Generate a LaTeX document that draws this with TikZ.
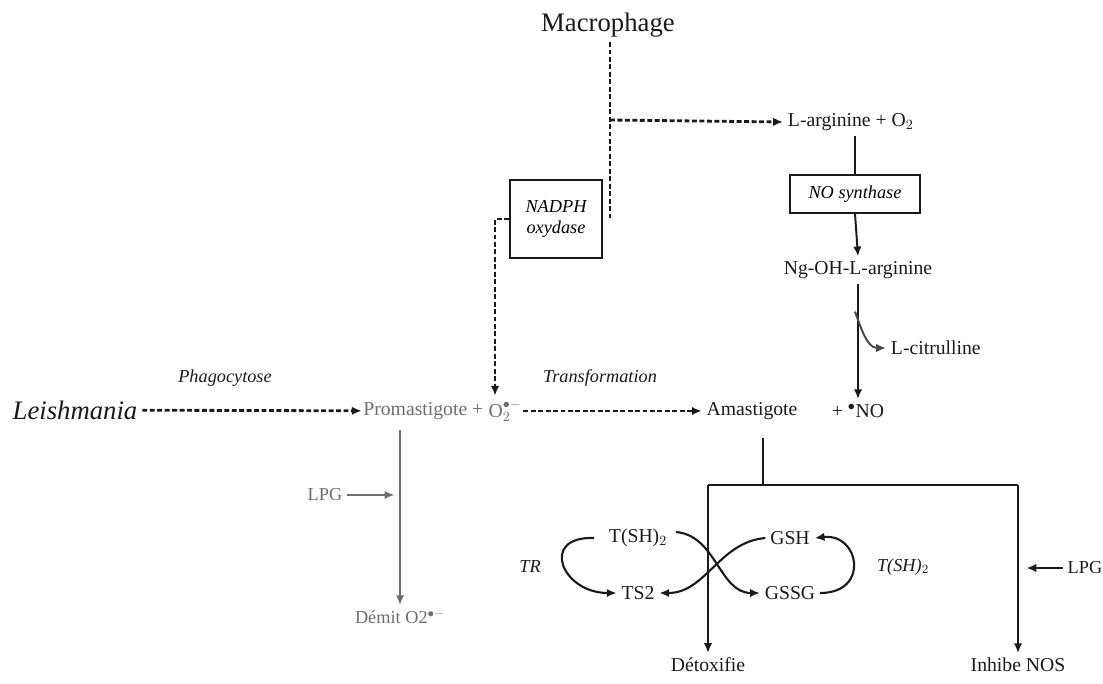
\documentclass[tikz,border=0pt]{standalone}
\usepackage{fontspec}
\setmainfont{Liberation Serif}
\usetikzlibrary{arrows.meta}
\definecolor{pathgray}{HTML}{6E6E6E}
\definecolor{inkblack}{HTML}{1A1A1A}
\tikzset{
  label/.style={font=\fontsize{14}{16}\selectfont, text=inkblack},
  biglabel/.style={font=\fontsize{19}{22}\selectfont, text=inkblack},
  itlabel/.style={font=\fontsize{13}{15}\selectfont\itshape, text=inkblack},
  graylabel/.style={font=\fontsize{14}{16}\selectfont, text=pathgray},
  enzyme/.style={draw=inkblack, line width=1pt, font=\fontsize{13}{15}\selectfont\itshape, align=center, inner sep=2pt},
  flow/.style={draw=inkblack, line width=1.4pt, -{Latex[length=7pt,width=6pt]}},
  dflow/.style={flow, line width=2pt, dash pattern=on 3.5pt off 1.8pt},
  gflow/.style={flow, draw=pathgray},
  cyc/.style={flow, line width=1.5pt, -{Latex[length=7pt,width=6pt]}}
}
\begin{document}
\begin{tikzpicture}[x=0.025cm, y=-0.025cm]
    \useasboundingbox (0,0) rectangle (1103,683);

    % macrophage side
    \node[biglabel] (mac) at (608,25) {Macrophage};
    \coordinate (macsplit) at (610,120);
    \coordinate (macfoot) at (610,218);
    \node[label, anchor=west] (larg) at (783,122) {L-arginine + O$_2$};
    \node[enzyme, minimum width=3.25cm, minimum height=0.95cm] (nos) at (855,194) {NO synthase};
    \node[label] (ngoh) at (858,270) {Ng-OH-L-arginine};
    \node[label, anchor=west] (lcit) at (886,348) {L-citrulline};
    \node[enzyme, minimum width=2.3cm, minimum height=1.95cm] (nadph) at (556,219) {NADPH\\oxydase};
    \coordinate (nadphbend) at (495,219);

    % parasite line
    \node[biglabel, font=\fontsize{19}{22}\selectfont\itshape] (leish) at (75,410) {Leishmania};
    \node[itlabel] (phago) at (225,378) {Phagocytose};
    \node[graylabel, anchor=east, inner xsep=1pt] (promas) at (485,411) {Promastigote +};
    \node[graylabel, anchor=west, inner xsep=1pt] (otwo) at (487,411) {O$_2^{\bullet-}$};
    \node[itlabel] (transf) at (600,378) {Transformation};
    \node[label] (amas) at (752,411) {Amastigote};
    \node[label] (no) at (858,411) {+ $^{\bullet}$NO};

    \draw[dflow, -] (mac.south -| macsplit) -- (macfoot);
    \draw[dflow] (macsplit) -- (larg.west);
    \draw[flow, -] (larg.south -| nos) -- (nos.north);
    \draw[flow] (nos.south) -- (ngoh.north);
    \draw[flow] (ngoh.south) -- (no.north);
    \draw[flow, draw=inkblack!80] (ngoh.south) ++(-3,28) to[out=-70, in=180] (lcit.west);
    \draw[dflow] (nadph.west) -- (nadphbend) -- (otwo.north -| nadphbend);
    \draw[dflow] (leish) -- (promas);
    \draw[dflow] (otwo) -- (amas);

    % promastigote branch
    \coordinate (pfoot) at (400,430);
    \node[graylabel, font=\fontsize{13}{15}\selectfont] (demit) at (400,617) {Démit O2$^{\bullet-}$};
    \node[graylabel, font=\fontsize{13}{15}\selectfont] (lpgL) at (325,495) {LPG};
    \draw[gflow] (pfoot) -- (demit.north);
    \draw[gflow, shorten >=4pt] (lpgL.east) -- (lpgL.east -| demit);

    % amastigote branch
    \coordinate (amasfoot) at (763,438);
    \coordinate (fork) at (763,485);
    \coordinate (forkL) at (708,485);
    \coordinate (forkR) at (1018,485);
    \node[label] (detox) at (708,665) {Détoxifie};
    \node[label] (inhib) at (1018,665) {Inhibe NOS};
    \node[label, font=\fontsize{13}{15}\selectfont] (lpgR) at (1085,568) {LPG};
    \draw[flow, -, line width=1.8pt] (amasfoot) -- (fork);
    \draw[flow, -] (forkL) -- (forkR);
    \draw[flow] (forkL) -- (detox.north);
    \draw[flow] (forkR) -- (inhib.north);
    \draw[flow, shorten >=6pt] (lpgR.west) -- (lpgR.west -| forkR);

    % thiol cycles
    \node[label] (tsh) at (638,538) {T(SH)$_2$};
    \node[label] (ts2) at (638,593) {TS2};
    \node[itlabel] (tr) at (530,567) {TR};
    \node[label] (gsh) at (790,538) {GSH};
    \node[label] (gssg) at (790,593) {GSSG};
    \node[itlabel] (tshR) at (903,567) {T(SH)$_2$};
    \draw[cyc] (tsh.west) ++(-10,0) .. controls +(-55,-2) and +(-55,0) .. (ts2.west);
    \draw[cyc] (tsh.east) ++(4,-6) to[out=-5, in=180] (gssg.west);
    \draw[cyc] (gsh.west) to[out=185, in=0] (ts2.east);
    \draw[cyc] (gssg.east) .. controls +(50,0) and +(45,-5) .. (gsh.east);
\end{tikzpicture}
\end{document}
